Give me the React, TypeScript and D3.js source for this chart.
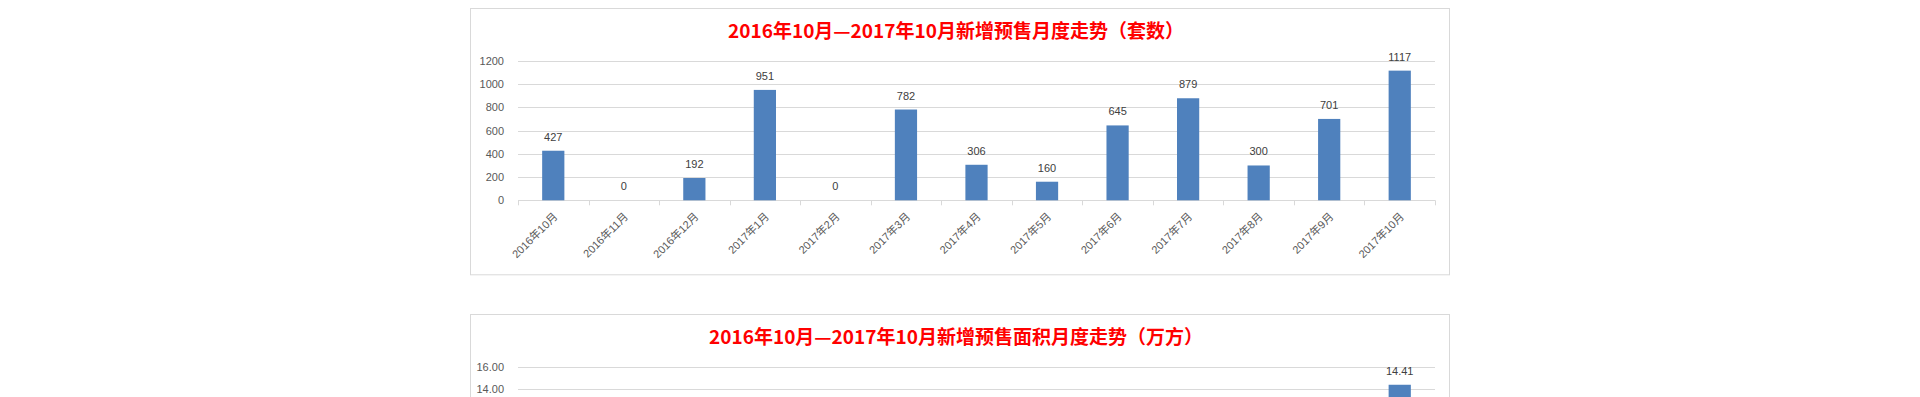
import React from 'react';
import * as d3 from 'd3';

const categories = [
  '2016年10月', '2016年11月', '2016年12月', '2017年1月', '2017年2月', '2017年3月', '2017年4月',
  '2017年5月', '2017年6月', '2017年7月', '2017年8月', '2017年9月', '2017年10月',
];
// 新增预售套数
const unitValues = [427, 0, 192, 951, 0, 782, 306, 160, 645, 879, 300, 701, 1117];
// 新增预售面积（万方）; only the last bar is visible in the picture, the rest are estimates
const areaValues = [5.46, 0, 2.31, 11.68, 0, 9.85, 3.62, 1.93, 7.54, 10.36, 3.87, 8.69, 14.41];
const unitTicks = [0, 200, 400, 600, 800, 1000, 1200];
const areaTicks = [0, 2, 4, 6, 8, 10, 12, 14, 16];

const W = 1920;
const H = 397;
const BOX_X = 470.5;
const BOX_W = 979;
const PLOT_L = 518;
const PLOT_R = 1435;
const BAR = '#4f81bd';
const LINE = '#d9d9d9';

type PanelProps = {
  top: number;
  title: string;
  values: number[];
  ticks: number[];
  plotH: number;
  fmt: (v: number) => string;
};

const Panel = ({ top, title, values, ticks, plotH, fmt }: PanelProps) => {
  const y0 = top + 53;
  const base = y0 + plotH;
  const x = d3.scaleBand<string>().domain(categories).range([PLOT_L, PLOT_R]).padding(0);
  const y = d3.scaleLinear().domain([0, d3.max(ticks) as number]).range([base, y0]);
  const step = x.step();
  const bw = step * 0.315;
  const boxH = base - top + 74;

  return (
    <g>
      <rect x={BOX_X} y={top + 0.5} width={BOX_W} height={boxH} fill="#fff" stroke={LINE} />
      <text
        x={956}
        y={top + 30}
        textAnchor="middle"
        fontFamily="'Noto Sans CJK SC', sans-serif"
        fontWeight="bold"
        fontSize={19}
        fill="#ff0000"
      >
        {title}
      </text>
      {ticks.map((t) => (
        <g key={t}>
          <line x1={PLOT_L} x2={PLOT_R} y1={Math.round(y(t)) + 0.5} y2={Math.round(y(t)) + 0.5} stroke={LINE} />
          <text
            x={504}
            y={y(t) + 4}
            textAnchor="end"
            fontFamily="'Liberation Sans', Arial, sans-serif"
            fontSize={11}
            fill="#595959"
          >
            {fmt(t)}
          </text>
        </g>
      ))}
      {d3.range(categories.length + 1).map((i) => {
        const tx = Math.round(PLOT_L + i * step) + 0.5;
        return <line key={i} x1={tx} x2={tx} y1={base} y2={base + 5} stroke={LINE} />;
      })}
      {categories.map((c, i) => {
        const cx = (x(c) as number) + step / 2;
        const v = values[i];
        return (
          <g key={c}>
            <rect x={cx - bw / 2} y={y(v)} width={bw} height={base - y(v)} fill={BAR} />
            <text
              x={cx}
              y={y(v) - 10}
              textAnchor="middle"
              fontFamily="'Liberation Sans', Arial, sans-serif"
              fontSize={11}
              fill="#404040"
            >
              {fmt(v)}
            </text>
            <text
              transform={`translate(${cx + 5},${base + 17}) rotate(-45)`}
              textAnchor="end"
              fontFamily="'Liberation Sans', 'Noto Sans CJK SC', sans-serif"
              fontSize={11}
              fill="#595959"
            >
              {c}
            </text>
          </g>
        );
      })}
    </g>
  );
};

export default function App() {
  return (
    <div style={{ position: 'fixed', left: 0, top: 0, width: W, height: H, overflow: 'hidden', background: '#fff' }}>
      <svg width={W} height={H}>
        <rect width={W} height={H} fill="#fff" />
        <Panel
          top={8}
          title="2016年10月—2017年10月新增预售月度走势（套数）"
          values={unitValues}
          ticks={unitTicks}
          plotH={139.3}
          fmt={(v) => String(v)}
        />
        <Panel
          top={314}
          title="2016年10月—2017年10月新增预售面积月度走势（万方）"
          values={areaValues}
          ticks={areaTicks}
          plotH={178.7}
          fmt={(v) => v.toFixed(2)}
        />
      </svg>
    </div>
  );
}
